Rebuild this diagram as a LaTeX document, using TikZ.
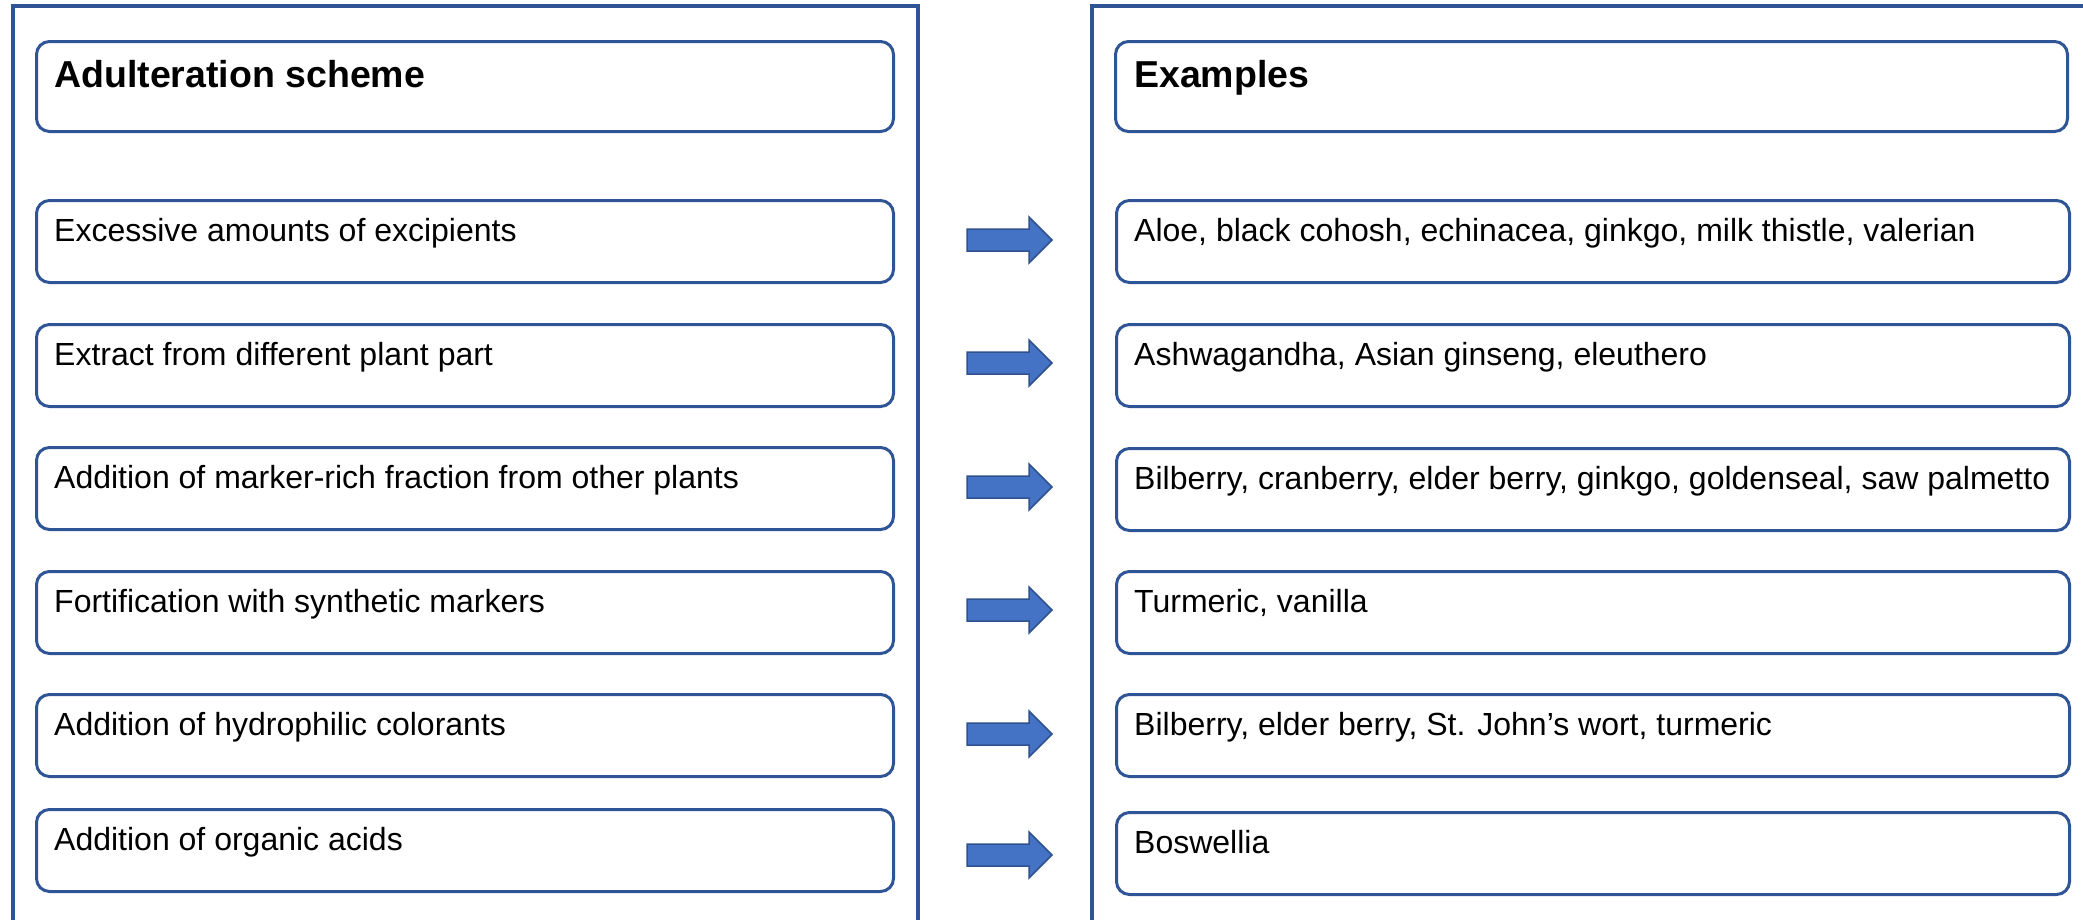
\documentclass[tikz,border=0pt]{standalone}
\usepackage{fontspec}
\setmainfont{Liberation Sans}
\definecolor{frameblue}{RGB}{47,85,151}
\definecolor{arrowfill}{RGB}{68,114,196}
\definecolor{arrowline}{RGB}{47,82,143}
\begin{document}
\begin{tikzpicture}[x=1pt,y=-1pt,
  frame/.style={draw=frameblue, line width=4pt, line join=miter},
  box/.style={draw=frameblue, line width=3pt, rounded corners=13pt, rectangle, anchor=north west, inner sep=0pt},
  lbox/.style={box, minimum width=857pt, minimum height=82pt},
  rbox/.style={box, minimum width=953pt, minimum height=82pt},
  itemtext/.style={anchor=base west, inner sep=0pt, font=\fontsize{32}{38}\selectfont},
  headtext/.style={anchor=base west, inner sep=0pt, font=\bfseries\fontsize{37.5}{44}\selectfont},
  blockarrow/.style={fill=arrowfill, draw=arrowline, line width=1.5pt, line join=miter}]
\useasboundingbox (0,0) rectangle (2083,919);

% panel frames (open at the bottom)
\draw[frame] (13,930) -- (13,6) -- (918,6) -- (918,930);
\draw[frame] (1092,930) -- (1092,6) -- (2095,6);

% headers
\node[box, minimum width=857pt, minimum height=90pt] (lh) at (35,40) {};
\node[headtext] (lht) at ([xshift=19pt,yshift=-47pt]lh.north west) {Adulteration scheme};
\node[box, minimum width=952pt, minimum height=90pt] (rh) at (1114,40) {};
\node[headtext] (rht) at ([xshift=20pt,yshift=-47pt]rh.north west) {Examples};

% left column
\node[lbox] (l1) at (35,199) {};
\node[lbox] (l2) at (35,323) {};
\node[lbox] (l3) at (35,446) {};
\node[lbox] (l4) at (35,570) {};
\node[lbox] (l5) at (35,693) {};
\node[lbox] (l6) at (35,808) {};
\node[itemtext] (l1t) at ([xshift=19pt,yshift=-42pt]l1.north west) {Excessive amounts of excipients};
\node[itemtext] (l2t) at ([xshift=19pt,yshift=-42pt]l2.north west) {Extract from different plant part};
\node[itemtext] (l3t) at ([xshift=19pt,yshift=-42pt]l3.north west) {Addition of marker-rich fraction from other plants};
\node[itemtext] (l4t) at ([xshift=19pt,yshift=-42pt]l4.north west) {Fortification with synthetic markers};
\node[itemtext] (l5t) at ([xshift=19pt,yshift=-42pt]l5.north west) {Addition of hydrophilic colorants};
\node[itemtext] (l6t) at ([xshift=19pt,yshift=-42pt]l6.north west) {Addition of organic acids};

% right column
\node[rbox] (r1) at (1115,199) {};
\node[rbox] (r2) at (1115,323) {};
\node[rbox] (r3) at (1115,447) {};
\node[rbox] (r4) at (1115,570) {};
\node[rbox] (r5) at (1115,693) {};
\node[rbox] (r6) at (1115,811) {};
\node[itemtext] (r1t) at ([xshift=19pt,yshift=-42pt]r1.north west) {Aloe, black cohosh, echinacea, ginkgo, milk thistle, valerian};
\node[itemtext] (r2t) at ([xshift=19pt,yshift=-42pt]r2.north west) {Ashwagandha, Asian ginseng, eleuthero};
\node[itemtext] (r3t) at ([xshift=19pt,yshift=-42pt]r3.north west) {Bilberry, cranberry, elder berry, ginkgo, goldenseal, saw palmetto};
\node[itemtext] (r4t) at ([xshift=19pt,yshift=-42pt]r4.north west) {Turmeric, vanilla};
\node[itemtext] (r5t) at ([xshift=19pt,yshift=-42pt]r5.north west) {Bilberry, elder berry, St. John’s wort, turmeric};
\node[itemtext] (r6t) at ([xshift=19pt,yshift=-42pt]r6.north west) {Boswellia};

% block arrows
\coordinate (a1) at (967,240);
\coordinate (a2) at (967,363);
\coordinate (a3) at (967,487);
\coordinate (a4) at (967,610);
\coordinate (a5) at (967,734);
\coordinate (a6) at (967,855);
\foreach \a in {a1,a2,a3,a4,a5,a6}{
  \draw[blockarrow] (\a) ++(0,-11) -- ++(62,0) -- ++(0,-12) -- ++(23,23) -- ++(-23,23) -- ++(0,-12) -- ++(-62,0) -- cycle;
}
\end{tikzpicture}
\end{document}
